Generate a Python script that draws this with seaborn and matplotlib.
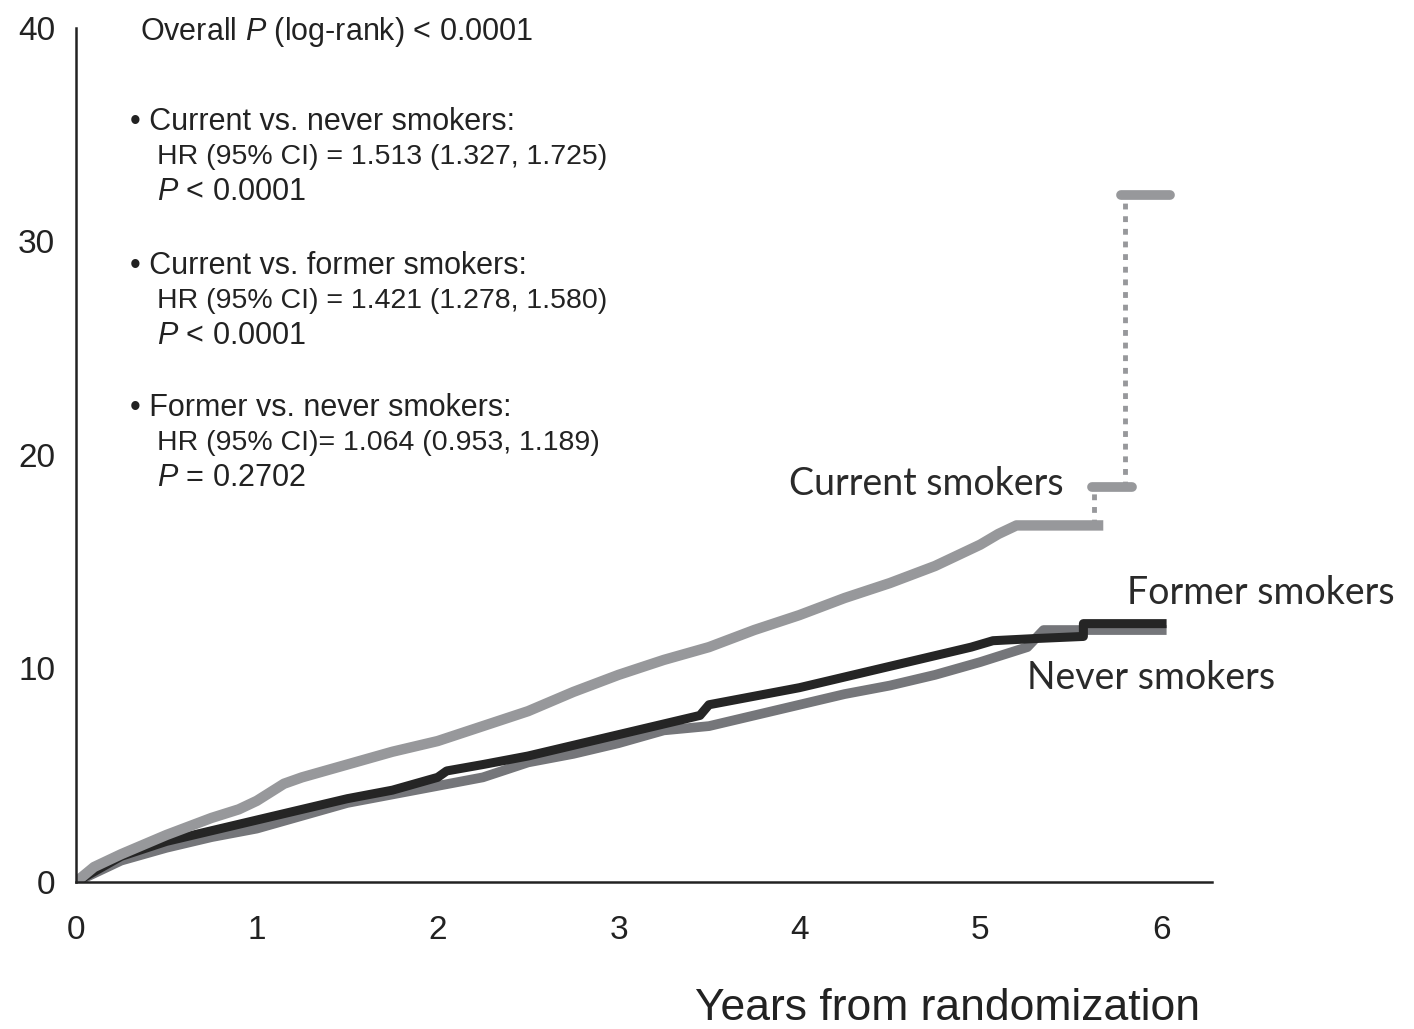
import matplotlib
matplotlib.use("Agg")
import matplotlib.pyplot as plt
import seaborn as sns

# Cumulative incidence (%) by smoking status, read at time points (years)
current_years = [0, 0.1, 0.25, 0.5, 0.75, 0.9, 1.0, 1.15, 1.25, 1.5, 1.75, 2.0, 2.25, 2.5,
                 2.75, 3.0, 3.25, 3.5, 3.75, 4.0, 4.25, 4.5, 4.75, 5.0, 5.1, 5.2, 5.68]
current_pct = [0, 0.7, 1.3, 2.2, 3.0, 3.4, 3.8, 4.6, 4.9, 5.5, 6.1, 6.6, 7.3, 8.0,
               8.9, 9.7, 10.4, 11.0, 11.8, 12.5, 13.3, 14.0, 14.8, 15.8, 16.3, 16.7, 16.7]
# late steps of the current-smoker curve (few patients at risk)
current_late_years = [[5.62, 5.84], [5.78, 6.05]]
current_late_pct = [18.5, 32.2]
current_jump_years = [5.63, 5.80]
current_jump_from = [16.7, 18.5]

former_years = [0, 0.25, 0.5, 0.75, 1.0, 1.25, 1.5, 1.75, 2.0, 2.05, 2.25, 2.5, 2.75, 3.0,
                3.25, 3.45, 3.5, 3.75, 4.0, 4.25, 4.5, 4.75, 4.95, 5.07, 5.3, 5.57, 5.57, 6.03]
former_pct = [0, 1.2, 1.9, 2.4, 2.9, 3.4, 3.9, 4.3, 4.9, 5.2, 5.5, 5.9, 6.4, 6.9,
              7.4, 7.8, 8.3, 8.7, 9.1, 9.6, 10.1, 10.6, 11.0, 11.3, 11.4, 11.5, 12.1, 12.1]

never_years = [0, 0.25, 0.5, 0.75, 1.0, 1.25, 1.5, 1.75, 2.0, 2.25, 2.5, 2.75, 3.0, 3.25,
               3.5, 3.75, 4.0, 4.25, 4.5, 4.75, 5.0, 5.26, 5.35, 6.03]
never_pct = [0, 1.0, 1.6, 2.1, 2.5, 3.1, 3.7, 4.1, 4.5, 4.9, 5.6, 6.0, 6.5, 7.1,
             7.3, 7.8, 8.3, 8.8, 9.2, 9.7, 10.3, 11.0, 11.8, 11.8]

x_ticks = [0, 1, 2, 3, 4, 5, 6]
y_ticks = [0, 10, 20, 30, 40]

col_current = "#97989b"
col_former = "#252525"
col_never = "#75767a"

sns.set_theme(style="white")
plt.rcParams["font.family"] = ["Liberation Sans", "DejaVu Sans"]
plt.rcParams["mathtext.fontset"] = "custom"
plt.rcParams["mathtext.it"] = "Liberation Sans:italic"
plt.rcParams["mathtext.rm"] = "Liberation Sans"

fig = plt.figure(figsize=(14.14, 10.29), dpi=100)
ax = fig.add_axes([0.0537, 0.1429, 0.857 - 0.0537, 0.9728 - 0.1429])

sns.lineplot(x=never_years, y=never_pct, ax=ax, color=col_never, linewidth=7,
             estimator=None, sort=False, solid_capstyle="butt")
sns.lineplot(x=former_years, y=former_pct, ax=ax, color=col_former, linewidth=6.5,
             estimator=None, sort=False, solid_capstyle="butt")
sns.lineplot(x=current_years, y=current_pct, ax=ax, color=col_current, linewidth=7.5,
             estimator=None, sort=False, solid_capstyle="butt")
for seg, level in zip(current_late_years, current_late_pct):
    sns.lineplot(x=seg, y=[level, level], ax=ax, color=col_current, linewidth=7,
                 estimator=None, sort=False)
for xj, y0, y1 in zip(current_jump_years, current_jump_from, current_late_pct):
    ax.plot([xj, xj], [y0, y1], color=col_current, linewidth=3.5,
            linestyle=(0, (1.2, 1.4)))

ax.set_xlim(0, 6.28)
ax.set_ylim(0, 40)
ax.set_xticks(x_ticks)
ax.set_yticks(y_ticks)
ax.set_xticklabels([str(v) for v in x_ticks])
ax.set_yticklabels([str(v) for v in y_ticks])
for side in ("top", "right"):
    ax.spines[side].set_visible(False)
for side in ("left", "bottom"):
    ax.spines[side].set_color("#222222")
    ax.spines[side].set_linewidth(1.8)
ax.tick_params(axis="both", direction="out", colors="#222222", labelsize=24,
               length=9, width=1.6)
ax.tick_params(axis="x", pad=15)
ax.tick_params(axis="y", pad=6)

ax.set_xlabel("Years from randomization", fontsize=32, color="#222222", loc="right")
ax.xaxis.set_label_coords(0.99, -0.124)
ax.set_ylabel("")

# Statistics block
tk = dict(fontsize=22, color="#222222", va="center", ha="left", clip_on=False)
hk = dict(tk, fontsize=20.5)
ax.text(0.354, 39.8, r"Overall $\mathit{P}$ (log-rank) < 0.0001", **tk)
blocks = [
    (35.6, "Current vs. never smokers:", "HR (95% CI) = 1.513 (1.327, 1.725)", r"$\mathit{P}$ < 0.0001"),
    (28.85, "Current vs. former smokers:", "HR (95% CI) = 1.421 (1.278, 1.580)", r"$\mathit{P}$ < 0.0001"),
    (22.2, "Former vs. never smokers:", "HR (95% CI)= 1.064 (0.953, 1.189)", r"$\mathit{P}$ = 0.2702"),
]
for y0, head, hr, p in blocks:
    ax.text(0.30, y0, "\u2022 " + head, **tk)
    ax.text(0.448, y0 - 1.66, hr, **hk)
    ax.text(0.448, y0 - 3.3, p, **tk)

# Curve labels
lk = dict(fontsize=27, color="#2a2a2a", va="center", ha="left", family=["Lato", "DejaVu Sans"])
ax.text(3.94, 18.64, "Current smokers", **lk)
ax.text(5.81, 13.54, "Former smokers", **lk)
ax.text(5.26, 9.55, "Never smokers", **lk)

fig.savefig("out.png", dpi=100, facecolor="white")
